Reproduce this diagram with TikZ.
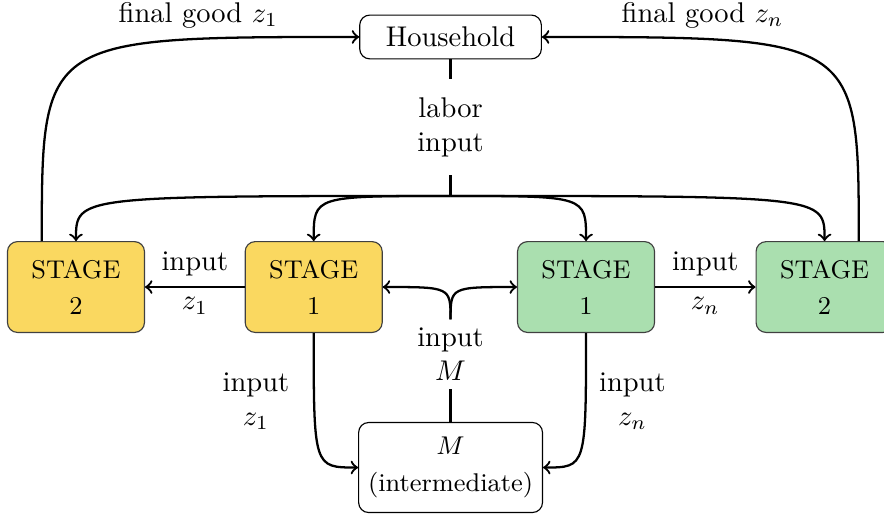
\documentclass[tikz,border=0pt]{standalone}
\usepackage{tikz}

\definecolor{stageyellow}{RGB}{250,216,96}
\definecolor{stagegreen}{RGB}{170,223,175}

\begin{document}
\begin{tikzpicture}[
    box/.style={draw, rounded corners=3.5pt, align=center},
    agent/.style={box, minimum width=2.24cm, minimum height=0.54cm},
    stagebox/.style={box, draw=black!75, font=\small, minimum width=1.69cm, minimum height=1.12cm},
    tag/.style={align=center},
    flow/.style={->, thick},
    link/.style={thick}
  ]

  \useasboundingbox (0,0) rectangle (10.903,6.401);

  \node[agent] (house) at (5.557,5.945) {Household};
  \node[agent, font=\small, minimum height=1.11cm] (mid) at (5.557,0.635) {$M$\\[2pt](intermediate)};

  \node[stagebox, fill=stageyellow] (ys2) at (0.937,2.861) {STAGE\\[1.5pt]2};
  \node[stagebox, fill=stageyellow] (ys1) at (3.869,2.861) {STAGE\\[1.5pt]1};
  \node[stagebox, fill=stagegreen] (gs1) at (7.228,2.861) {STAGE\\[1.5pt]1};
  \node[stagebox, fill=stagegreen] (gs2) at (10.170,2.861) {STAGE\\[1.5pt]2};

  \node[tag, inner ysep=6.2pt] (labor) at (5.557,4.829) {labor\\input};
  \node[tag, inner ysep=2.8pt] (inm) at (5.557,2.029) {input\\$M$};
  \coordinate (split) at (5.557,3.984);

  % labor from the household
  \draw[link] (house) -- (labor);
  \draw[link] (labor) -- (split);
  \foreach \s in {ys2,ys1,gs1,gs2}
    \draw[flow] (split) .. controls (split -| \s.north) .. (\s.north);

  % intermediate input
  \draw[link] (mid) -- (inm);
  \draw[flow] (inm.north) .. controls (inm.north |- ys1.east) .. (ys1.east);
  \draw[flow] (inm.north) .. controls (inm.north |- gs1.west) .. (gs1.west);

  \draw[flow] (ys1) -- node[above] {input} node[below] {$z_1$} (ys2);
  \draw[flow] (gs1) -- node[above] {input} node[below] {$z_n$} (gs2);

  \draw[flow] (ys1.south) .. controls (ys1.south |- mid.west) .. node[tag, pos=0.21, left=5pt] {input\\$z_1$} (mid.west);
  \draw[flow] (gs1.south) .. controls (gs1.south |- mid.east) .. node[tag, pos=0.21, right=1pt] {input\\$z_n$} (mid.east);

  % final goods
  \coordinate (fz1) at ([xshift=-12pt]ys2.north);
  \coordinate (fzn) at ([xshift=12pt]gs2.north);
  \draw[flow] (fz1) .. controls (fz1 |- house.west) .. node[pos=0.79, above] {final good $z_1$} (house.west);
  \draw[flow] (fzn) .. controls (fzn |- house.east) .. node[pos=0.79, above] {final good $z_n$} (house.east);

\end{tikzpicture}
\end{document}
